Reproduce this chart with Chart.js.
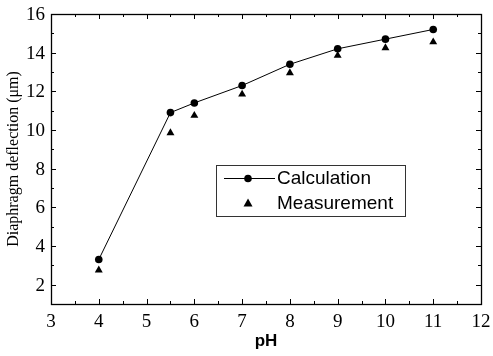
<!DOCTYPE html>
<html lang="en">
<head>
    <meta charset="UTF-8">
    <title>Diaphragm deflection vs pH</title>
    <script src="https://cdn.jsdelivr.net/npm/chart.js"></script>
    <style>
        html, body { margin: 0; padding: 0; background: #fff; }
        #wrap { width: 493px; height: 356px; }
    </style>
</head>
<body>
    <div id="wrap"><canvas id="myChart" width="493" height="356"></canvas></div>

    <script>
        // data
        const phValues = [4, 5.5, 6, 7, 8, 9, 10, 11];
        const calculation = [3.3, 10.9, 11.4, 12.3, 13.4, 14.2, 14.7, 15.2];
        const measurement = [2.75, 9.85, 10.75, 11.85, 12.95, 13.85, 14.25, 14.55];
        const xTicks = [3, 4, 5, 6, 7, 8, 9, 10, 11, 12];
        const yTicks = [2, 4, 6, 8, 10, 12, 14, 16];

        const serif = '"Liberation Serif", serif';
        const sans = '"Liberation Sans", Arial, sans-serif';

        // inward ticks on all four sides, legend box, tick labels
        const frame = {
            id: 'frame',
            afterDraw(chart) {
                const ctx = chart.ctx;
                const xs = chart.scales.x, ys = chart.scales.y;
                const L = xs.getPixelForValue(xs.min), R = xs.getPixelForValue(xs.max);
                const T = ys.getPixelForValue(ys.max), B = ys.getPixelForValue(ys.min);
                ctx.save();
                ctx.strokeStyle = '#000';
                ctx.fillStyle = '#000';
                ctx.lineWidth = 1;
                ctx.beginPath();
                for (let v = xs.min; v <= xs.max; v += 0.5) {
                    const px = Math.round(xs.getPixelForValue(v)) + 0.5;
                    const len = Number.isInteger(v) ? 5 : 3;
                    ctx.moveTo(px, B); ctx.lineTo(px, B - len);
                    ctx.moveTo(px, T); ctx.lineTo(px, T + len);
                }
                for (let v = ys.min; v <= ys.max; v += 1) {
                    const py = Math.round(ys.getPixelForValue(v)) + 0.5;
                    const len = v % 2 === 0 ? 5 : 3;
                    ctx.moveTo(L, py); ctx.lineTo(L + len, py);
                    ctx.moveTo(R, py); ctx.lineTo(R - len, py);
                }
                ctx.stroke();
                ctx.lineWidth = 1.3;
                ctx.strokeRect(Math.round(L) + 0.5, Math.round(T) + 0.5,
                    Math.round(R - L), Math.round(B - T));

                // legend
                ctx.lineWidth = 1;
                ctx.textBaseline = 'middle';
                const bx = 216.5, by = 165.5, bw = 189, bh = 51;
                ctx.strokeStyle = '#333';
                ctx.strokeRect(bx, by, bw, bh);
                ctx.strokeStyle = '#000';
                const r1 = 178, r2 = 203;
                ctx.beginPath();
                ctx.moveTo(224, r1 + 0.5); ctx.lineTo(275, r1 + 0.5);
                ctx.stroke();
                ctx.beginPath();
                ctx.arc(248, r1 + 0.5, 3.8, 0, Math.PI * 2);
                ctx.fill();
                ctx.beginPath();
                ctx.moveTo(248, r2 - 4.5);
                ctx.lineTo(252.5, r2 + 3.5);
                ctx.lineTo(243.5, r2 + 3.5);
                ctx.closePath();
                ctx.fill();
                ctx.font = '19px ' + sans;
                ctx.fillText(chart.data.datasets[0].label, 277, r1 + 1);
                ctx.fillText(chart.data.datasets[1].label, 277, r2 + 1);

                // tick labels
                ctx.font = '19px ' + serif;
                ctx.textAlign = 'center';
                xs.ticks.forEach(t => {
                    ctx.fillText(String(t.value), xs.getPixelForValue(t.value), B + 18);
                });
                ctx.textAlign = 'right';
                ys.ticks.forEach(t => {
                    ctx.fillText(String(t.value), L - 6, ys.getPixelForValue(t.value) + 1);
                });
                ctx.restore();
            }
        };

        const ctx = document.getElementById('myChart').getContext('2d');
        new Chart(ctx, {
            type: 'scatter',
            data: {
                datasets: [{
                    label: 'Calculation',
                    data: phValues.map((x, i) => ({ x: x, y: calculation[i] })),
                    showLine: true,
                    borderColor: '#000',
                    borderWidth: 1,
                    backgroundColor: '#000',
                    pointStyle: 'circle',
                    pointRadius: 3.8,
                    pointBorderWidth: 0
                }, {
                    label: 'Measurement',
                    data: phValues.map((x, i) => ({ x: x, y: measurement[i] })),
                    showLine: false,
                    borderColor: '#000',
                    backgroundColor: '#000',
                    pointStyle: 'triangle',
                    pointRadius: 4.6,
                    pointBorderWidth: 0
                }]
            },
            options: {
                responsive: false,
                animation: false,
                layout: { padding: { top: 14, right: 12, left: 0, bottom: 0 } },
                plugins: {
                    legend: { display: false },
                    tooltip: { enabled: false }
                },
                scales: {
                    x: {
                        type: 'linear',
                        min: 3,
                        max: 12,
                        afterBuildTicks: s => { s.ticks = xTicks.map(v => ({ value: v })); },
                        afterFit: s => { s.height = 52; },
                        grid: { display: false, drawTicks: false },
                        border: { display: false },
                        ticks: { display: false },
                        title: {
                            display: true,
                            text: 'pH',
                            color: '#000',
                            padding: { top: 0, bottom: 4 },
                            font: { family: sans, size: 17, weight: 'bold' }
                        }
                    },
                    y: {
                        type: 'linear',
                        min: 1,
                        max: 16,
                        afterBuildTicks: s => { s.ticks = yTicks.map(v => ({ value: v })); },
                        afterFit: s => { s.width = 51; },
                        grid: { display: false, drawTicks: false },
                        border: { display: false },
                        ticks: { display: false },
                        title: {
                            display: true,
                            text: 'Diaphragm deflection (\u03bcm)',
                            color: '#000',
                            padding: { top: 4, bottom: 0 },
                            font: { family: serif, size: 16 }
                        }
                    }
                }
            },
            plugins: [frame]
        });
    </script>
</body>
</html>
